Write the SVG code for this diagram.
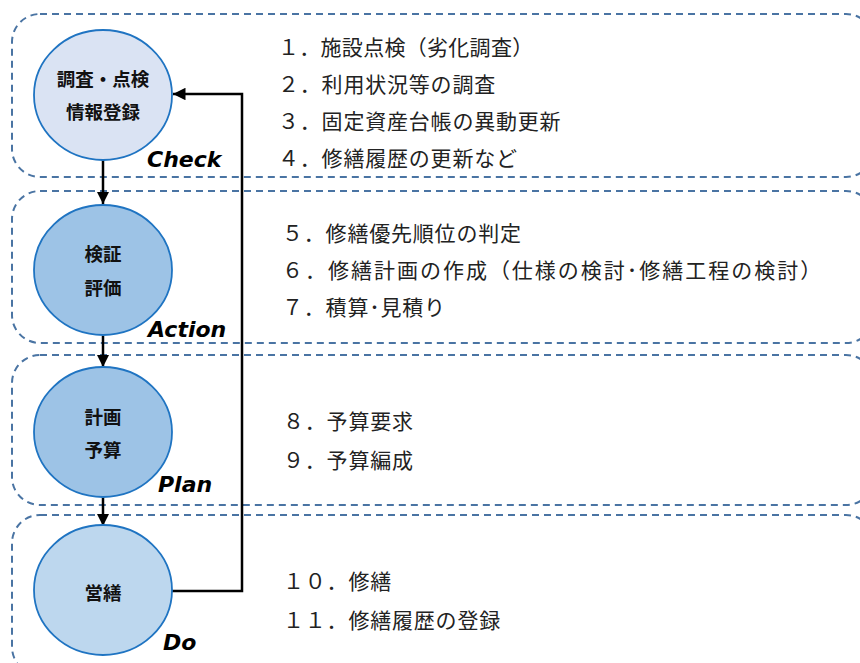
<svg xmlns="http://www.w3.org/2000/svg" width="860" height="663" viewBox="0 0 860 663">
<style>
.box{fill:none;stroke:#4A74A3;stroke-width:2;stroke-dasharray:7,5}
.node{stroke:#1F74C2;stroke-width:1.8}
.nt{font-family:"Noto Sans CJK JP","Noto Sans",sans-serif;font-size:18.5px;font-weight:bold;fill:#111;text-anchor:middle}
.ph{font-family:"DejaVu Sans","Verdana",sans-serif;font-size:22px;font-weight:bold;font-style:italic;fill:#000}
.it{font-family:"Noto Sans CJK JP","Noto Sans",sans-serif;font-size:21px;letter-spacing:0.8px;fill:#222}
.conn{fill:none;stroke:#000;stroke-width:2.5}
</style>
<defs>
<marker id="ah" viewBox="0 0 10 10" refX="10" refY="5" markerWidth="5" markerHeight="5" orient="auto" markerUnits="strokeWidth">
<path d="M0,0 L10,5 L0,10 z" fill="#000"/>
</marker>
</defs>
<g id="groups">
<rect class="box" x="12" y="14" width="862" height="163" rx="28"/>
<rect class="box" x="12" y="191" width="862" height="152" rx="28"/>
<rect class="box" x="12" y="355" width="862" height="150" rx="28"/>
<rect class="box" x="12" y="515" width="862" height="160" rx="28"/>
</g>
<g id="connectors">
<line class="conn" x1="103" y1="160" x2="103" y2="204" marker-end="url(#ah)"/>
<line class="conn" x1="103" y1="336" x2="103" y2="367" marker-end="url(#ah)"/>
<line class="conn" x1="103" y1="497" x2="103" y2="526" marker-end="url(#ah)"/>
<polyline class="conn" points="172,591 242,591 242,94 173,94" marker-end="url(#ah)"/>
</g>
<g id="check">
<ellipse class="node" cx="103" cy="95" rx="69" ry="65" fill="#DAE3F3"/>
<text class="nt" x="103" y="86">調査・点検</text>
<text class="nt" x="103" y="119">情報登録</text>
<text class="ph" x="147" y="167">Check</text>
</g>
<g id="action">
<ellipse class="node" cx="103" cy="270" rx="69" ry="65" fill="#9DC3E6"/>
<text class="nt" x="103" y="261">検証</text>
<text class="nt" x="103" y="295">評価</text>
<text class="ph" x="148" y="337">Action</text>
</g>
<g id="plan">
<ellipse class="node" cx="103" cy="432" rx="69" ry="65" fill="#9DC3E6"/>
<text class="nt" x="103" y="424">計画</text>
<text class="nt" x="103" y="457">予算</text>
<text class="ph" x="158" y="492">Plan</text>
</g>
<g id="do">
<ellipse class="node" cx="103" cy="590" rx="69" ry="65" fill="#BDD7EE"/>
<text class="nt" x="103" y="600">営繕</text>
<text class="ph" x="163" y="650">Do</text>
</g>
<g id="items">
<text class="it" x="278" y="55" textLength="256" lengthAdjust="spacing">１．施設点検（劣化調査）</text>
<text class="it" x="278" y="92">２．利用状況等の調査</text>
<text class="it" x="278" y="129">３．固定資産台帳の異動更新</text>
<text class="it" x="278" y="166">４．修繕履歴の更新など</text>
<text class="it" x="282" y="241">５．修繕優先順位の判定</text>
<text class="it" x="282" y="278" textLength="540" lengthAdjust="spacing">６．修繕計画の作成（仕様の検討･修繕工程の検討）</text>
<text class="it" x="282" y="315">７．積算･見積り</text>
<text class="it" x="283" y="429">８．予算要求</text>
<text class="it" x="283" y="468">９．予算編成</text>
<text class="it" x="283" y="589">１０．修繕</text>
<text class="it" x="283" y="628">１１．修繕履歴の登録</text>
</g>
</svg>
